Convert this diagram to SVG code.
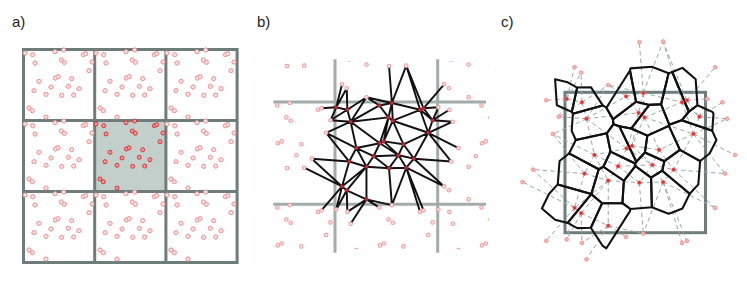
<svg xmlns="http://www.w3.org/2000/svg" xmlns:xlink="http://www.w3.org/1999/xlink" width="747" height="299" viewBox="0 0 747 299">
<style>
.lbl{font-family:"Liberation Sans",Arial,sans-serif;font-size:15px;fill:#222}
.ga{fill:none;stroke:#6e7c7a;stroke-width:3}
.gb{fill:none;stroke:#a2aca9;stroke-width:3}
.pk{fill:#fde3e3;stroke:#f29b9b;stroke-width:1}
.dk{fill:#ee9a9a;stroke:#d6353b;stroke-width:1}
.pkb{fill:#fde3e3;stroke:#f29b9b;stroke-width:0.7}
.dkb{fill:#c0303a;stroke:#8e1c22;stroke-width:0.5}
.edb{fill:none;stroke:#111;stroke-width:1.35;stroke-linecap:round}
.edc{fill:none;stroke:#9aa7a4;stroke-width:0.5;stroke-dasharray:2.2 1.6}
.vor{fill:none;stroke:#111;stroke-width:1.05;stroke-linejoin:round}
.pcc{fill:#ee2e2e;stroke:#f07070;stroke-width:0.3}
.pco{fill:#f8b4b4;stroke:#f08c8c;stroke-width:0.4}
</style>
<defs>
<g id="pa">
<circle cx="1.5" cy="3.5" r="2"/><circle cx="9.2" cy="5.2" r="2"/><circle cx="11.5" cy="13.5" r="2"/><circle cx="31.5" cy="2.2" r="2"/><circle cx="40.2" cy="0.5" r="2"/><circle cx="37.8" cy="10.5" r="2"/><circle cx="40.8" cy="12.8" r="2"/><circle cx="59.8" cy="5.2" r="2"/><circle cx="62.2" cy="4.2" r="2"/><circle cx="68.5" cy="12.5" r="2"/><circle cx="65.5" cy="21.2" r="2"/><circle cx="31.8" cy="28.5" r="2"/><circle cx="34.5" cy="27.2" r="2"/><circle cx="48.2" cy="29.2" r="2"/><circle cx="15.5" cy="31.8" r="2"/><circle cx="27.5" cy="37.5" r="2"/><circle cx="44.8" cy="36.8" r="2"/><circle cx="55.5" cy="39.2" r="2"/><circle cx="10.5" cy="41.2" r="2"/><circle cx="22.5" cy="44.8" r="2"/><circle cx="38.2" cy="45.8" r="2"/><circle cx="50.2" cy="45.5" r="2"/><circle cx="5.5" cy="58.5" r="2"/><circle cx="8.8" cy="61.2" r="2"/><circle cx="22.5" cy="67.5" r="2"/>
</g>
<g id="pb">
<circle cx="1.5" cy="3.5" r="1.25"/><circle cx="9.2" cy="5.2" r="1.25"/><circle cx="11.5" cy="13.5" r="1.25"/><circle cx="31.5" cy="2.2" r="1.25"/><circle cx="40.2" cy="0.5" r="1.25"/><circle cx="37.8" cy="10.5" r="1.25"/><circle cx="40.8" cy="12.8" r="1.25"/><circle cx="59.8" cy="5.2" r="1.25"/><circle cx="62.2" cy="4.2" r="1.25"/><circle cx="68.5" cy="12.5" r="1.25"/><circle cx="65.5" cy="21.2" r="1.25"/><circle cx="31.8" cy="28.5" r="1.25"/><circle cx="34.5" cy="27.2" r="1.25"/><circle cx="48.2" cy="29.2" r="1.25"/><circle cx="15.5" cy="31.8" r="1.25"/><circle cx="27.5" cy="37.5" r="1.25"/><circle cx="44.8" cy="36.8" r="1.25"/><circle cx="55.5" cy="39.2" r="1.25"/><circle cx="10.5" cy="41.2" r="1.25"/><circle cx="22.5" cy="44.8" r="1.25"/><circle cx="38.2" cy="45.8" r="1.25"/><circle cx="50.2" cy="45.5" r="1.25"/><circle cx="5.5" cy="58.5" r="1.25"/><circle cx="8.8" cy="61.2" r="1.25"/><circle cx="22.5" cy="67.5" r="1.25"/>
</g>
<g id="pc">
<circle cx="1.5" cy="3.5" r="0.95"/><circle cx="9.2" cy="5.2" r="0.95"/><circle cx="11.5" cy="13.5" r="0.95"/><circle cx="31.5" cy="2.2" r="0.95"/><circle cx="40.2" cy="0.5" r="0.95"/><circle cx="37.8" cy="10.5" r="0.95"/><circle cx="40.8" cy="12.8" r="0.95"/><circle cx="59.8" cy="5.2" r="0.95"/><circle cx="62.2" cy="4.2" r="0.95"/><circle cx="68.5" cy="12.5" r="0.95"/><circle cx="65.5" cy="21.2" r="0.95"/><circle cx="31.8" cy="28.5" r="0.95"/><circle cx="34.5" cy="27.2" r="0.95"/><circle cx="48.2" cy="29.2" r="0.95"/><circle cx="15.5" cy="31.8" r="0.95"/><circle cx="27.5" cy="37.5" r="0.95"/><circle cx="44.8" cy="36.8" r="0.95"/><circle cx="55.5" cy="39.2" r="0.95"/><circle cx="10.5" cy="41.2" r="0.95"/><circle cx="22.5" cy="44.8" r="0.95"/><circle cx="38.2" cy="45.8" r="0.95"/><circle cx="50.2" cy="45.5" r="0.95"/><circle cx="5.5" cy="58.5" r="0.95"/><circle cx="8.8" cy="61.2" r="0.95"/><circle cx="22.5" cy="67.5" r="0.95"/>
</g>
<path id="del" d="M1.5 3.5L9.2 5.2M9.2 5.2L11.5 13.5M11.5 13.5L31.5 2.2M11.5 13.5L37.8 10.5M11.5 13.5L31.8 28.5M11.5 13.5L15.5 31.8M31.5 2.2L40.2 0.5M31.5 2.2L37.8 10.5M40.2 0.5L59.8 5.2M40.2 0.5L40.8 12.8M40.2 0.5L37.8 10.5M37.8 10.5L40.8 12.8M37.8 10.5L34.5 27.2M37.8 10.5L31.8 28.5M40.8 12.8L59.8 5.2M40.8 12.8L65.5 21.2M40.8 12.8L48.2 29.2M40.8 12.8L34.5 27.2M59.8 5.2L62.2 4.2M59.8 5.2L68.5 12.5M59.8 5.2L65.5 21.2M62.2 4.2L68.5 12.5M68.5 12.5L65.5 21.2M65.5 21.2L55.5 39.2M65.5 21.2L48.2 29.2M31.8 28.5L34.5 27.2M31.8 28.5L44.8 36.8M31.8 28.5L27.5 37.5M31.8 28.5L15.5 31.8M34.5 27.2L48.2 29.2M34.5 27.2L44.8 36.8M48.2 29.2L55.5 39.2M48.2 29.2L44.8 36.8M15.5 31.8L27.5 37.5M15.5 31.8L22.5 44.8M15.5 31.8L10.5 41.2M27.5 37.5L44.8 36.8M27.5 37.5L38.2 45.8M27.5 37.5L22.5 44.8M44.8 36.8L55.5 39.2M44.8 36.8L50.2 45.5M44.8 36.8L38.2 45.8M55.5 39.2L50.2 45.5M10.5 41.2L22.5 44.8M10.5 41.2L5.5 58.5M22.5 44.8L38.2 45.8M22.5 44.8L22.5 67.5M22.5 44.8L8.8 61.2M22.5 44.8L5.5 58.5M38.2 45.8L50.2 45.5M5.5 58.5L8.8 61.2M8.8 61.2L22.5 67.5M1.5 3.5L-8.8 4.2M1.5 3.5L5.5 -12.5M1.5 3.5L8.8 -9.8M1.5 3.5L-2.5 12.5M9.2 5.2L8.8 -9.8M9.2 5.2L22.5 -3.5M9.2 5.2L-2.5 12.5M11.5 13.5L22.5 -3.5M11.5 13.5L-5.5 21.2M11.5 13.5L-2.5 12.5M31.5 2.2L22.5 -3.5M40.2 0.5L22.5 -3.5M40.2 0.5L38.2 -25.2M40.2 0.5L50.2 -25.5M59.8 5.2L50.2 -25.5M62.2 4.2L50.2 -25.5M62.2 4.2L76.5 -12.5M62.2 4.2L72.5 3.5M68.5 12.5L72.5 3.5M68.5 12.5L80.2 5.2M68.5 12.5L82.5 13.5M65.5 21.2L82.5 13.5M65.5 21.2L86.5 31.8M65.5 21.2L81.5 41.2M15.5 31.8L-5.5 21.2M55.5 39.2L81.5 41.2M55.5 39.2L76.5 58.5M10.5 41.2L-15.5 39.2M10.5 41.2L-5.5 21.2M38.2 45.8L40.2 71.5M50.2 45.5L76.5 58.5M50.2 45.5L62.2 75.2M50.2 45.5L59.8 76.2M50.2 45.5L40.2 71.5M5.5 58.5L1.5 74.5M5.5 58.5L-8.8 75.2M5.5 58.5L-20.8 45.5M5.5 58.5L-15.5 39.2M8.8 61.2L9.2 76.2M8.8 61.2L1.5 74.5M22.5 67.5L40.2 71.5M22.5 67.5L31.5 73.2M22.5 67.5L11.5 84.5M22.5 67.5L9.2 76.2"/>
<clipPath id="clipb"><rect x="274" y="61" width="215" height="188"/></clipPath>
</defs>

<text class="lbl" x="12" y="27">a)</text>
<text class="lbl" x="257" y="27">b)</text>
<text class="lbl" x="501" y="27">c)</text>

<g id="panel-a">
<rect x="94.7" y="120.5" width="71.2" height="71" fill="#c3cfcb"/>
<use href="#pa" class="pk" transform="translate(23.5,49.5)"/>
<use href="#pa" class="pk" transform="translate(94.5,49.5)"/>
<use href="#pa" class="pk" transform="translate(165.5,49.5)"/>
<use href="#pa" class="pk" transform="translate(23.5,120.5)"/>
<use href="#pa" class="pk" transform="translate(165.5,120.5)"/>
<use href="#pa" class="pk" transform="translate(23.5,191.5)"/>
<use href="#pa" class="pk" transform="translate(94.5,191.5)"/>
<use href="#pa" class="pk" transform="translate(165.5,191.5)"/>
<path class="ga" d="M23.5 49.5H237.1V262.5H23.5Z M94.7 49.5V262.5 M165.9 49.5V262.5 M23.5 120.5H237.1 M23.5 191.5H237.1"/>
<use href="#pa" class="pk" transform="translate(23.5,49.5)"/>
<use href="#pa" class="pk" transform="translate(94.5,49.5)"/>
<use href="#pa" class="pk" transform="translate(165.5,49.5)"/>
<use href="#pa" class="pk" transform="translate(23.5,120.5)"/>
<use href="#pa" class="pk" transform="translate(165.5,120.5)"/>
<use href="#pa" class="pk" transform="translate(23.5,191.5)"/>
<use href="#pa" class="pk" transform="translate(94.5,191.5)"/>
<use href="#pa" class="pk" transform="translate(165.5,191.5)"/>
<use href="#pa" class="dk" transform="translate(94.5,120.5)"/>
</g>

<g id="panel-b">
<path class="gb" d="M335 59.3V252.7 M437.7 59.3V252.7 M273.3 102H486 M273.3 204.3H486"/>
<g id="connectors-b" transform="translate(334.1,102.3) scale(1.438)">
<use href="#del" class="edb"/>
</g>
<g clip-path="url(#clipb)">
<use href="#pb" class="pkb" transform="translate(232,0.2) scale(1.438)"/>
<use href="#pb" class="pkb" transform="translate(334.1,0.2) scale(1.438)"/>
<use href="#pb" class="pkb" transform="translate(436.2,0.2) scale(1.438)"/>
<use href="#pb" class="pkb" transform="translate(232,102.3) scale(1.438)"/>
<use href="#pb" class="pkb" transform="translate(436.2,102.3) scale(1.438)"/>
<use href="#pb" class="pkb" transform="translate(232,204.4) scale(1.438)"/>
<use href="#pb" class="pkb" transform="translate(334.1,204.4) scale(1.438)"/>
<use href="#pb" class="pkb" transform="translate(436.2,204.4) scale(1.438)"/>
<use href="#pb" class="dkb" transform="translate(334.1,102.3) scale(1.438)"/>
</g>
</g>

<g id="panel-c">
<rect x="565" y="92.3" width="140.5" height="140.4" class="ga"/>
<g transform="translate(563.7,92) scale(1.98)">
<g id="connectors-c"><use href="#del" class="edc"/></g>
<g id="voronoi" class="vor">
<polygon points="-4.35,-6.46 2.01,-4.87 6.81,-2.24 4.09,10.04 -3.46,6.69"/>
<polygon points="6.81,-2.24 13.71,-2.43 19.71,6.76 4.65,10.93 4.09,10.04"/>
<polygon points="19.71,6.76 21.555,7.947 24.85,13.79 25.14,16.28 21.77,20.84 6.13,24.26 4.03,19.62 4.65,10.93"/>
<polygon points="33.47,-10.86 36.55,4.91 24.85,13.79 21.555,7.947"/>
<polygon points="33.47,-10.86 33.71,-11.92 44.52,-12.76 52.97,-9.51 49.19,6.23 43.24,6.52 36.55,4.91"/>
<polygon points="36.55,4.91 43.24,6.52 34.09,18.44 28.05,17.25 25.14,16.28 24.85,13.79"/>
<polygon points="49.19,6.23 53.31,16.53 53.11,17.11 42.25,22.01 34.09,18.44 43.24,6.52"/>
<polygon points="52.97,-9.51 54.83,-10.1 63.2,9.98 59.58,14.29 53.31,16.53 49.19,6.23"/>
<polygon points="54.83,-10.1 59.98,-12.18 66.65,-6.46 67.54,6.69 63.2,9.98"/>
<polygon points="67.54,6.69 75.09,10.04 75.65,10.93 75.03,19.62 59.58,14.29 63.2,9.98"/>
<polygon points="75.03,19.62 77.13,24.26 73.71,31.03 68.91,34.87 58.7,29.2 53.11,17.11 53.31,16.53 59.58,14.29"/>
<polygon points="25.14,16.28 28.05,17.25 36.68,35.19 36.11,36.09 23.65,30.13 21.77,20.84"/>
<polygon points="34.09,18.44 42.25,22.01 41.01,30.54 36.68,35.19 28.05,17.25"/>
<polygon points="53.11,17.11 58.7,29.2 50.84,34.94 41.01,30.54 42.25,22.01"/>
<polygon points="21.77,20.84 23.65,30.13 20.03,37.75 17.7,39 2.71,31.03 6.13,24.26"/>
<polygon points="36.11,36.09 36.16,37.38 30.38,44.83 20.03,37.75 23.65,30.13"/>
<polygon points="41.01,30.54 50.84,34.94 49.76,39.75 44.14,43.24 36.16,37.38 36.11,36.09 36.68,35.19"/>
<polygon points="58.7,29.2 68.91,34.87 68,46.67 63.64,51.42 49.76,39.75 50.84,34.94"/>
<polygon points="17.7,39 13.93,51.56 -3,46.67 -2.09,34.87 2.71,31.03"/>
<polygon points="20.03,37.75 30.38,44.83 29.66,56.15 19.42,56.15 13.93,51.56 17.7,39"/>
<polygon points="44.14,43.24 44.52,58.24 33.71,59.08 29.66,56.15 30.38,44.83 36.16,37.38"/>
<polygon points="49.76,39.75 63.64,51.42 59.98,58.82 54.83,60.9 52.97,61.49 44.52,58.24 44.14,43.24"/>
<polygon points="13.93,51.56 2.01,66.13 -4.35,64.54 -11.02,58.82 -7.36,51.42 -3,46.67"/>
<polygon points="13.93,51.56 19.42,56.15 13.71,68.57 6.81,68.76 2.01,66.13"/>
<polygon points="19.42,56.15 29.66,56.15 33.71,59.08 33.47,60.14 21.555,78.947 19.71,77.76 13.71,68.57"/>
</g>
<g id="outer-points-c" class="pco">
<circle cx="-8.8" cy="4.2" r="0.95"/><circle cx="5.5" cy="-12.5" r="0.95"/><circle cx="8.8" cy="-9.8" r="0.95"/><circle cx="-2.5" cy="12.5" r="0.95"/><circle cx="22.5" cy="-3.5" r="0.95"/><circle cx="-5.5" cy="21.2" r="0.95"/><circle cx="38.2" cy="-25.2" r="0.95"/><circle cx="50.2" cy="-25.5" r="0.95"/><circle cx="76.5" cy="-12.5" r="0.95"/><circle cx="72.5" cy="3.5" r="0.95"/><circle cx="80.2" cy="5.2" r="0.95"/><circle cx="82.5" cy="13.5" r="0.95"/><circle cx="86.5" cy="31.8" r="0.95"/><circle cx="81.5" cy="41.2" r="0.95"/><circle cx="76.5" cy="58.5" r="0.95"/><circle cx="-15.5" cy="39.2" r="0.95"/><circle cx="40.2" cy="71.5" r="0.95"/><circle cx="62.2" cy="75.2" r="0.95"/><circle cx="59.8" cy="76.2" r="0.95"/><circle cx="1.5" cy="74.5" r="0.95"/><circle cx="-8.8" cy="75.2" r="0.95"/><circle cx="-20.8" cy="45.5" r="0.95"/><circle cx="9.2" cy="76.2" r="0.95"/><circle cx="31.5" cy="73.2" r="0.95"/><circle cx="11.5" cy="84.5" r="0.95"/>
</g>
<use href="#pc" class="pcc"/>
</g>
</g>
</svg>
